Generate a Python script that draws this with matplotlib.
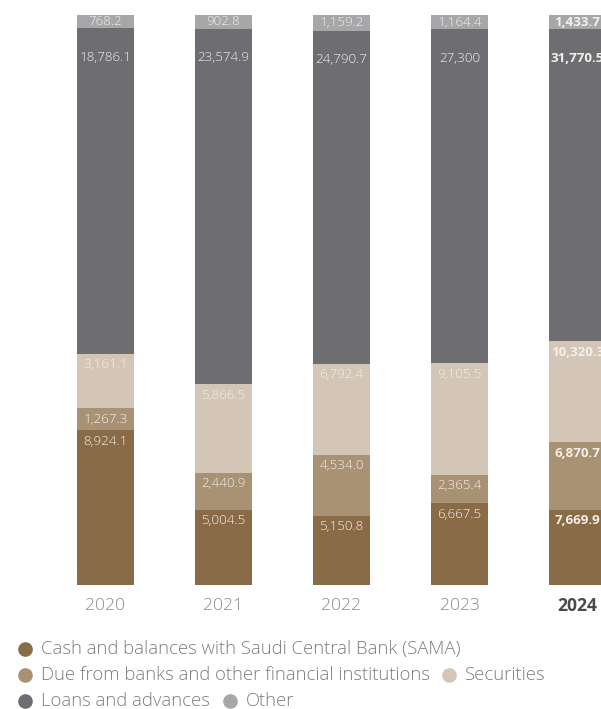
import matplotlib
matplotlib.use("Agg")
import matplotlib.pyplot as plt
from matplotlib.lines import Line2D
import numpy as np

plt.rcParams['font.family'] = ['Open Sans', 'DejaVu Sans']

years = ["2020", "2021", "2022", "2023", "2024"]
cash = [8924.1, 5004.5, 5150.8, 6667.5, 7669.9]
due_from_banks = [1267.3, 2440.9, 4534.0, 2365.4, 6870.7]
securities = [3161.1, 5866.5, 6792.4, 9105.5, 10320.3]
loans = [18786.1, 23574.9, 24790.7, 27300.0, 31770.5]
other = [768.2, 902.8, 1159.2, 1164.4, 1433.7]

series_names = ["Cash and balances with Saudi Central Bank (SAMA)",
                "Due from banks and other financial institutions",
                "Securities", "Loans and advances", "Other"]
colors = ["#8a6b48", "#a99174", "#d4c6b6", "#6e6d72", "#a7a6a8"]
label_offsets = [8, 8, 8, 21, None]  # points below segment top
# values printed without a decimal place: (series index, year index)
whole_labels = {(3, 3)}

series = [cash, due_from_banks, securities, loans, other]
data = np.array(series, dtype=float)
totals = data.sum(axis=0)
shares = data / totals * 100

fig = plt.figure(figsize=(6.01, 7.09), dpi=100)
ax = fig.add_axes([0, 1 - 585 / 709, 1, 570 / 709])

x = np.arange(len(years))
width = 0.483
bottom = np.zeros(len(years))
for i, (vals, pct, col) in enumerate(zip(series, shares, colors)):
    ax.bar(x, pct, width, bottom=bottom, color=col, linewidth=0)
    for j, v in enumerate(vals):
        top = bottom[j] + pct[j]
        txt = f"{v:,.0f}" if (i, j) in whole_labels else f"{v:,.1f}"
        bold = years[j] == "2024"
        kw = dict(ha="center", va="center", color="#f4efe9", fontsize=9.6,
                  fontweight="bold" if bold else "light")
        if label_offsets[i] is None:
            ax.text(x[j], bottom[j] + pct[j] / 2, txt, **kw)
        else:
            ax.annotate(txt, (x[j], top), xytext=(0, -label_offsets[i]),
                        textcoords="offset points", **kw)
    bottom += pct

ax.set_xlim(-105.5 / 118, 4 + 23.5 / 118)
ax.set_ylim(0, 100)
ax.axis("off")

for j, y in enumerate(years):
    bold = y == "2024"
    ax.annotate(y, (x[j], 0), xytext=(0, -15.3), textcoords="offset points",
                ha="center", va="center", fontsize=12.6,
                color="#4a4a4a" if bold else "#8a8a8a",
                fontweight="bold" if bold else "light")

def legend_item(xp, yp, idx):
    fig.add_artist(Line2D([xp / 601], [1 - yp / 709], marker="o", markersize=9.5,
                          color=colors[idx], linestyle="none",
                          transform=fig.transFigure))
    fig.text((xp + 16) / 601, 1 - yp / 709, series_names[idx], ha="left",
             va="center", fontsize=13.3, color="#7d7d7d", fontweight="light")

legend_item(25, 649, 0)
legend_item(25, 675, 1)
legend_item(449, 675, 2)
legend_item(25, 701, 3)
legend_item(230, 701, 4)

fig.savefig("out.png", dpi=100)
